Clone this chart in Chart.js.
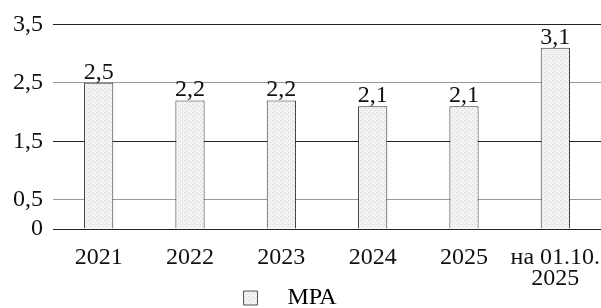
<!DOCTYPE html>
<html>
<head>
<meta charset="utf-8">
<script src="https://cdn.jsdelivr.net/npm/chart.js@4"></script>
<style>
    html, body { margin: 0; padding: 0; background: #fff; }
    #wrap { width: 601px; height: 308px; }
</style>
</head>
<body>
<div id="wrap"><canvas id="mraChart"></canvas></div>
<script>
const categories = ['2021', '2022', '2023', '2024', '2025', ['на 01.10.', '2025']];
const mraValues = [2.5, 2.2, 2.2, 2.1, 2.1, 3.1];
const yTicks = [0, 0.5, 1.5, 2.5, 3.5];
const seriesName = 'МРА';

const fontFamily = '"Liberation Serif", "Times New Roman", serif';

// dotted light gray fill like the original
function makePattern() {
    const c = document.createElement('canvas');
    c.width = 4;
    c.height = 4;
    const p = c.getContext('2d');
    p.fillStyle = '#f3f3f3';
    p.fillRect(0, 0, 4, 4);
    p.fillStyle = '#d2d2d2';
    p.fillRect(0, 0, 1, 1);
    p.fillRect(2, 2, 1, 1);
    return p.createPattern(c, 'repeat');
}

const fmt = v => String(v).replace('.', ',');

// values above the bars
const valueLabels = {
    id: 'valueLabels',
    afterDatasetsDraw(chart) {
        const ctx = chart.ctx;
        const meta = chart.getDatasetMeta(0);
        ctx.save();
        ctx.font = '24px ' + fontFamily;
        ctx.fillStyle = '#111';
        ctx.textAlign = 'center';
        ctx.textBaseline = 'alphabetic';
        meta.data.forEach((bar, i) => {
            ctx.fillText(fmt(mraValues[i]), bar.x, bar.y - 4);
        });
        ctx.restore();
    }
};

const pattern = makePattern();
const ctx = document.getElementById('mraChart').getContext('2d');
const mraChart = new Chart(ctx, {
    type: 'bar',
    data: {
        labels: categories,
        datasets: [{
            label: seriesName,
            data: mraValues,
            backgroundColor: pattern,
            borderColor: '#333',
            borderWidth: 1,
            barPercentage: 0.32,
            categoryPercentage: 1.0
        }]
    },
    options: {
        responsive: true,
        maintainAspectRatio: false,
        animation: false,
        layout: {
            padding: { top: 17, right: 0, left: 3, bottom: 0 }
        },
        plugins: {
            tooltip: { enabled: false },
            legend: {
                position: 'bottom',
                maxHeight: 22,
                labels: {
                    font: { family: fontFamily, size: 24, lineHeight: 1.0 },
                    color: '#111',
                    boxWidth: 14,
                    boxHeight: 14,
                    padding: 0,
                    generateLabels(chart) {
                        return [{
                            text: '   ' + seriesName + '    ',
                            fillStyle: pattern,
                            strokeStyle: '#555',
                            lineWidth: 1,
                            datasetIndex: 0
                        }];
                    }
                }
            }
        },
        scales: {
            x: {
                grid: { display: false, drawTicks: false },
                border: { display: false },
                afterFit(axis) {
                    axis.height = 57;
                    axis.paddingRight = 0;
                },
                ticks: {
                    font: { family: fontFamily, size: 24, lineHeight: 0.85 },
                    color: '#111',
                    maxRotation: 0,
                    autoSkip: false,
                    padding: 19
                }
            },
            y: {
                min: 0,
                max: 3.5,
                afterBuildTicks(axis) {
                    axis.ticks = yTicks.map(v => ({ value: v }));
                },
                border: { display: false },
                grid: {
                    drawTicks: false,
                    lineWidth: 1,
                    color: c => (c.tick && (c.tick.value === 0.5 || c.tick.value === 2.5)) ? '#9a9a9a' : '#222'
                },
                ticks: {
                    font: { family: fontFamily, size: 24 },
                    color: '#111',
                    padding: 10,
                    callback: v => fmt(v)
                }
            }
        }
    },
    plugins: [valueLabels]
});
</script>
</body>
</html>
